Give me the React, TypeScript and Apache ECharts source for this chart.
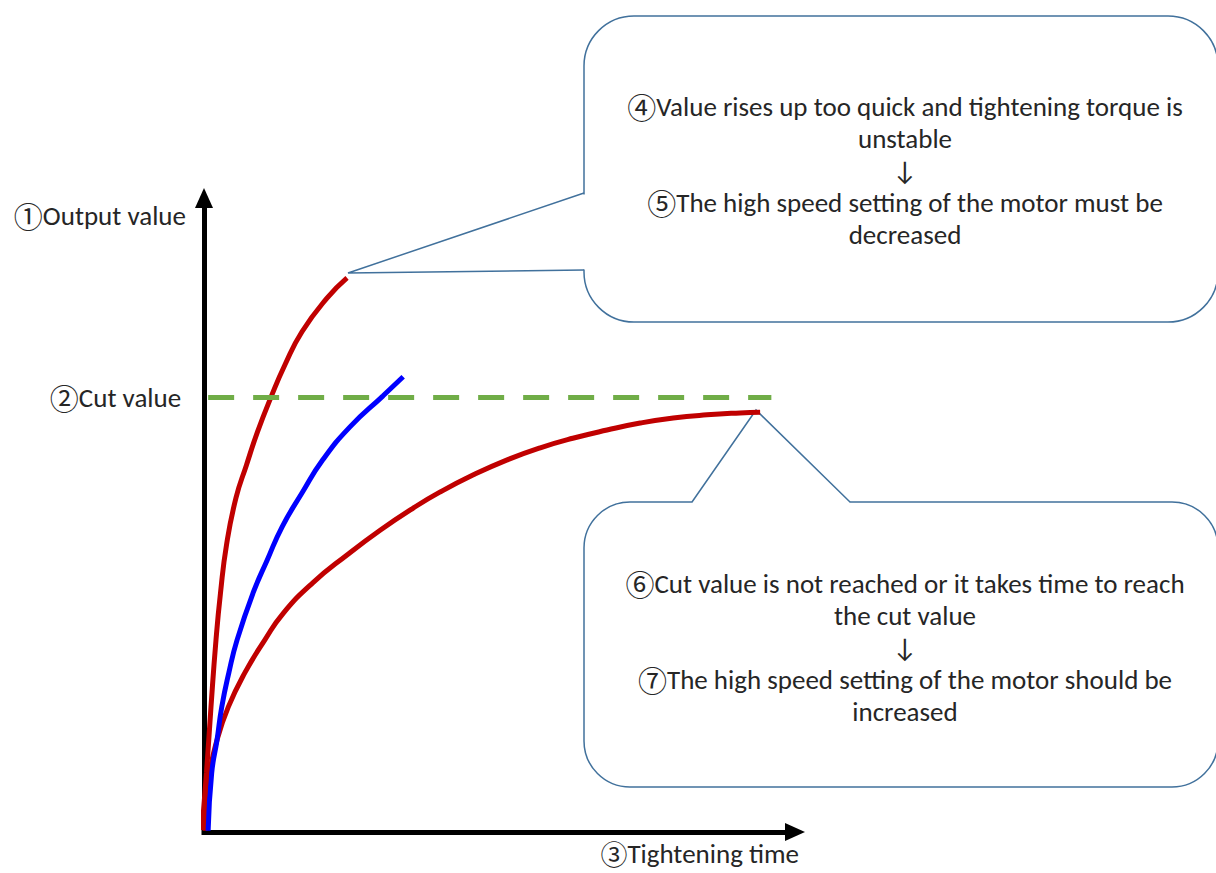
import React, { useEffect, useRef } from "react";
import * as echarts from "echarts";

// ---- data (axis units: 0..100 on both axes) ----
const cutValue = 68.6;
const cutStartX = 0.7;
const cutEndX = 96;

const fastX = [-0.34, 0.42, 1.18, 2.03, 2.79, 3.81, 5.41, 7.19, 9.05, 11.34, 13.7, 16.58, 20.81, 24.2];
const fastY = [0.3, 9.3, 19.7, 30.3, 37.7, 45.3, 52.7, 57.9, 63.1, 68.6, 73.7, 78.9, 84.2, 87.4];

const blueX = [0.7, 1.3, 2.2, 3.0, 4.2, 5.6, 8.3, 10.7, 13.2, 16.6, 20.1, 24.7, 30.3, 33.7];
const blueY = [0.2, 9.3, 14.5, 19.7, 25.1, 30.3, 37.7, 42.9, 48.1, 53.5, 58.7, 63.9, 68.8, 71.8];

const slowX = [0.2, 1.0, 2.2, 4.1, 6.9, 10.3, 13.4, 18.4, 24.2, 29.8, 35.4, 39.9, 45.5, 51.3, 56.9, 62.4, 68.2, 73.8, 79.4, 85.1, 90.7, 94.1];
const slowY = [0.2, 9.3, 14.5, 19.7, 25.1, 30.3, 34.5, 39.3, 43.7, 47.6, 51.1, 53.6, 56.3, 58.7, 60.6, 62.1, 63.4, 64.5, 65.3, 65.8, 66.1, 66.2];

const yAxisLabel = "{c|①}Output value";
const cutLabel = "{c|②}Cut value";
const xAxisLabel = "{c|③}Tightening time";

const callout1Lines = [
  "{c|④}Value rises up too quick and tightening torque is",
  "unstable",
  "↓",
  "{c|⑤}The high speed setting of the motor must be",
  "decreased",
];
const callout2Lines = [
  "{c|⑥}Cut value is not reached or it takes time to reach",
  "the cut value",
  "↓",
  "{c|⑦}The high speed setting of the motor should be",
  "increased",
];

const zip = (xs: number[], ys: number[]) => xs.map((x, i) => [x, ys[i]]);

export default function App() {
  const ref = useRef<HTMLDivElement>(null);
  useEffect(() => {
    if (!ref.current) return;
    const chart = echarts.init(ref.current, null, { renderer: "svg" });
    const FONT_FAMILY = "Carlito, 'Liberation Sans Narrow', 'Noto Sans', sans-serif";
    const CJK = "'Noto Sans CJK JP', 'Noto Sans CJK SC', sans-serif";
    const FS = 27;
    const TEXT = "#262626";
    const BOX = "#41719C";
    const rich = (lh: number, cs = 29) => ({
      c: { fontFamily: CJK, fontSize: cs, fill: TEXT, color: TEXT, lineHeight: lh },
    });
    const axisCommon = {
      type: "value",
      min: 0,
      max: 100,
      splitLine: { show: false },
      axisTick: { show: false },
      axisLabel: { show: false },
      axisLine: {
        show: true,
        onZero: true,
        symbol: ["none", "triangle"],
        symbolSize: [18, 20],
        lineStyle: { color: "#000", width: 5, cap: "square" },
      },
    };
    const curve = (name: string, xs: number[], ys: number[], color: string) => ({
      type: "line",
      name,
      data: zip(xs, ys),
      smooth: 0.5,
      symbol: "none",
      clip: false,
      silent: true,
      lineStyle: { color, width: 5 },
      z: 3,
    });
    const textEl = (x: number, y: number, text: string, align: string, lh: number, cs = 29) => ({
      type: "text",
      x,
      y,
      style: {
        text,
        fontSize: FS,
        lineHeight: lh,
        fontFamily: FONT_FAMILY,
        fill: TEXT,
        align,
        verticalAlign: "middle",
        rich: rich(lh, cs),
      },
    });
    chart.setOption({
      animation: false,
      backgroundColor: "#fff",
      grid: { left: 204, right: 421, top: 198, bottom: 41 },
      xAxis: { ...axisCommon },
      yAxis: { ...axisCommon },
      series: [
        {
          type: "line",
          name: "cut",
          data: [],
          silent: true,
          markLine: {
            silent: true,
            symbol: "none",
            animation: false,
            lineStyle: { color: "#70AD47", width: 5, type: [26, 19] },
            label: {
              show: true,
              position: "start",
              distance: 27,
              formatter: cutLabel,
              fontSize: FS,
              lineHeight: 30,
              fontFamily: FONT_FAMILY,
              color: TEXT,
              rich: rich(30),
            },
            data: [[{ coord: [cutStartX, cutValue] }, { coord: [cutEndX, cutValue] }]],
          },
        },
        curve("slow", slowX, slowY, "#C00000"),
        curve("blue", blueX, blueY, "#0000FF"),
        curve("fast", fastX, fastY, "#C00000"),
      ],
      graphic: [
        textEl(186, 215, yAxisLabel, "right", 30),
        textEl(799, 853, xAxisLabel, "right", 28, 27),
        // callout 1
        {
          type: "rect",
          shape: { x: 584, y: 16, width: 634, height: 306, r: 50 },
          style: { fill: "#fff", stroke: BOX, lineWidth: 1.5 },
        },
        {
          type: "line",
          shape: { x1: 584, y1: 194.5, x2: 584, y2: 269.5 },
          style: { stroke: "#fff", lineWidth: 4 },
        },
        {
          type: "polyline",
          shape: { points: [[584, 193], [348, 273], [584, 270]] },
          style: { stroke: BOX, lineWidth: 1.5, fill: null },
        },
        textEl(905, 170, callout1Lines.join("\n"), "center", 32),
        // callout 2
        {
          type: "rect",
          shape: { x: 584, y: 502, width: 634, height: 285, r: 46 },
          style: { fill: "#fff", stroke: BOX, lineWidth: 1.5 },
        },
        {
          type: "line",
          shape: { x1: 692.5, y1: 502, x2: 849.5, y2: 502 },
          style: { stroke: "#fff", lineWidth: 4 },
        },
        {
          type: "polyline",
          shape: { points: [[692, 502], [756, 410], [850, 502]] },
          style: { stroke: BOX, lineWidth: 1.5, fill: null },
        },
        textEl(905, 647, callout2Lines.join("\n"), "center", 32),
      ],
    });
    return () => chart.dispose();
  }, []);
  return (
    <div
      ref={ref}
      style={{ position: "fixed", left: 0, top: 0, width: 1216, height: 873, background: "#fff" }}
    />
  );
}
